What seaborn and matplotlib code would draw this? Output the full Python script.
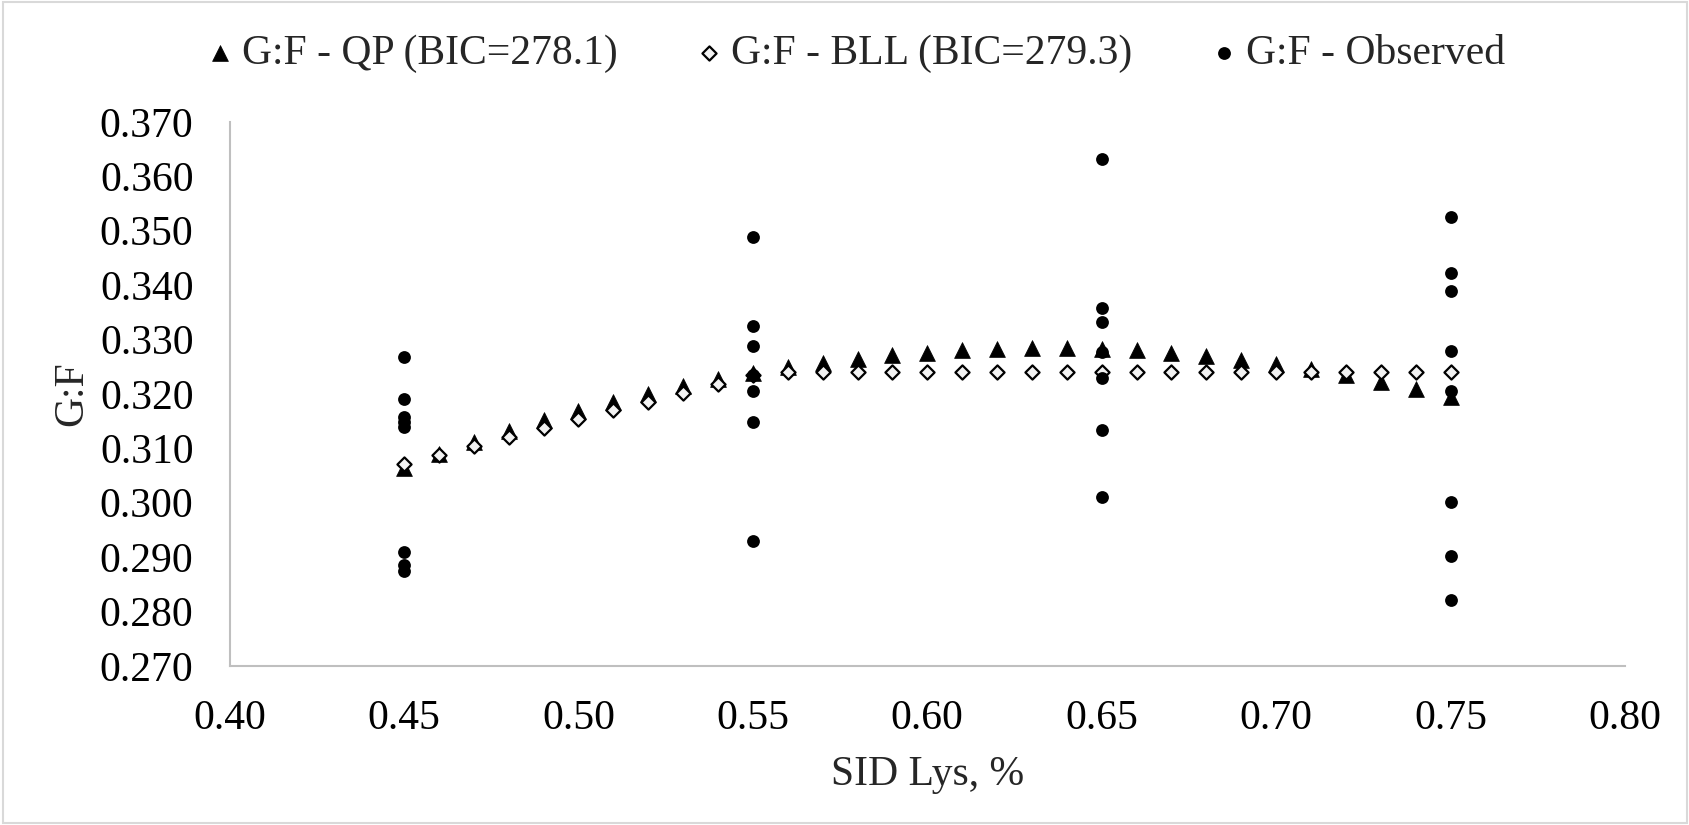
import numpy as np
import pandas as pd
import matplotlib
matplotlib.use("Agg")
import matplotlib.pyplot as plt
import seaborn as sns
from matplotlib.patches import Rectangle
from matplotlib.ticker import FormatStrFormatter, MultipleLocator

# --------------------- Data ---------------------
sid_lys = [0.45, 0.46, 0.47, 0.48, 0.49, 0.50, 0.51, 0.52, 0.53, 0.54, 0.55,
           0.56, 0.57, 0.58, 0.59, 0.60, 0.61, 0.62, 0.63, 0.64, 0.65,
           0.66, 0.67, 0.68, 0.69, 0.70, 0.71, 0.72, 0.73, 0.74, 0.75]

qp_gf = [0.3064, 0.3089, 0.3112, 0.3132, 0.3152, 0.3169, 0.3185, 0.3200, 0.3214, 0.3227, 0.3239,
         0.3249, 0.3257, 0.3265, 0.3271, 0.3276, 0.3280, 0.3282, 0.3284, 0.3284, 0.3282,
         0.3280, 0.3276, 0.3270, 0.3263, 0.3255, 0.3246, 0.3235, 0.3222, 0.3209, 0.3194]

bll_gf = [0.3071, 0.3087, 0.3104, 0.3120, 0.3137, 0.3153, 0.3170, 0.3186, 0.3202, 0.3219, 0.3235,
          0.3240, 0.3240, 0.3240, 0.3240, 0.3240, 0.3240, 0.3240, 0.3240, 0.3240, 0.3240,
          0.3240, 0.3240, 0.3240, 0.3240, 0.3240, 0.3240, 0.3240, 0.3240, 0.3240, 0.3240]

obs_lys = [0.45] * 8 + [0.55] * 7 + [0.65] * 7 + [0.75] * 8
obs_gf = [0.3267, 0.3191, 0.3157, 0.3149, 0.3140, 0.2909, 0.2886, 0.2874,
          0.3489, 0.3325, 0.3288, 0.3235, 0.3206, 0.3148, 0.2929,
          0.3631, 0.3358, 0.3333, 0.3277, 0.3230, 0.3134, 0.3011,
          0.3525, 0.3422, 0.3389, 0.3279, 0.3206, 0.3002, 0.2902, 0.2821]

labels = ["G:F - QP (BIC=278.1)", "G:F - BLL (BIC=279.3)", "G:F - Observed"]

# --------------------- Style ---------------------
sns.set_style("white")
plt.rcParams['font.family'] = ['Liberation Serif', 'DejaVu Serif']
FS = 30

model_df = pd.DataFrame({"lys": sid_lys, "qp": qp_gf, "bll": bll_gf})
obs_df = pd.DataFrame({"lys": obs_lys, "gf": obs_gf})

fig = plt.figure(figsize=(16.9, 8.25), dpi=100)
ax = fig.add_axes([0.1359, 0.1927, 0.8256, 0.6597])

sns.scatterplot(data=model_df, x="lys", y="qp", marker="^", s=130, color="black",
                edgecolor="black", linewidth=0.5, label=labels[0], ax=ax, zorder=3)
sns.scatterplot(data=model_df, x="lys", y="bll", marker="D", s=52, color="#F2F2F2",
                edgecolor="black", linewidth=1.6, label=labels[1], ax=ax, zorder=4)
sns.scatterplot(data=obs_df, x="lys", y="gf", marker="o", s=85, color="black",
                edgecolor="black", linewidth=0, label=labels[2], ax=ax, zorder=5)

ax.set_xlim(0.40, 0.80)
ax.set_ylim(0.270, 0.370)
ax.xaxis.set_major_locator(MultipleLocator(0.05))
ax.yaxis.set_major_locator(MultipleLocator(0.01))
ax.xaxis.set_major_formatter(FormatStrFormatter("%.2f"))
ax.yaxis.set_major_formatter(FormatStrFormatter("%.3f"))
ax.tick_params(axis="both", length=0, labelsize=FS, colors="black")
ax.tick_params(axis="y", pad=26)
ax.tick_params(axis="x", pad=24)

sns.despine(ax=ax)
for side in ["left", "bottom"]:
    ax.spines[side].set_color("#BFBFBF")
    ax.spines[side].set_linewidth(1.5)

ax.set_xlabel("SID Lys, %", fontsize=FS, labelpad=13)
ax.set_ylabel("G:F", fontsize=FS)
ax.yaxis.set_label_coords(-0.099, 0.5)

ax.get_legend().remove()
handles, lbls = ax.get_legend_handles_labels()
fig.legend(handles, lbls, loc="center", bbox_to_anchor=(0.508, 0.935), ncol=3,
           frameon=False, fontsize=FS, handlelength=0.4, handletextpad=0.33,
           columnspacing=2.0, markerscale=1.0)

# chart border
fig.patches.append(Rectangle((0.002, 0.003), 0.996, 0.994, transform=fig.transFigure,
                             fill=False, edgecolor="#D9D9D9", linewidth=1.5))

fig.savefig("out.png", dpi=100)
